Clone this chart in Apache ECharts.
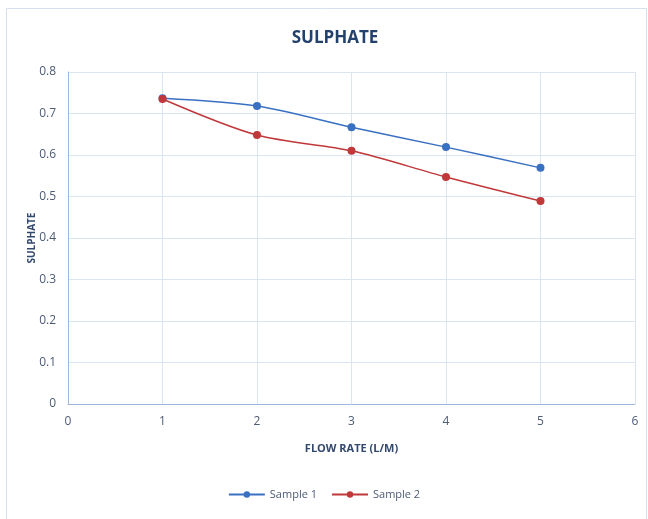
<!DOCTYPE html>
<html><head><meta charset="utf-8">
<script src="https://cdn.jsdelivr.net/npm/echarts@6/dist/echarts.min.js"></script>
<style>html,body{margin:0;padding:0;background:#fff}#c{width:648px;height:519px}</style>
</head><body><div id="c"></div>
<script>
var flowRate = [1, 2, 3, 4, 5];
var sample1 = [0.737, 0.718, 0.667, 0.619, 0.569];
var sample2 = [0.735, 0.648, 0.610, 0.547, 0.489];
var xTicks = [0, 1, 2, 3, 4, 5, 6];
var yTicks = [0, 0.1, 0.2, 0.3, 0.4, 0.5, 0.6, 0.7, 0.8];

var font = "'Open Sans', sans-serif";
var labelColor = '#4d5b75';
var chart = echarts.init(document.getElementById('c'));
function pairs(xs, ys){ return xs.map(function(x,i){return [x, ys[i]];}); }
chart.setOption({
  backgroundColor: '#fff',
  animation: false,
  graphic: [{type:'rect', shape:{x:6.5,y:8.5,width:640,height:520}, style:{fill:'none', stroke:'#d5e1f0', lineWidth:1}}],
  title: {text:'SULPHATE', left:330, top:25, textAlign:'center',
    textStyle:{fontFamily:font, fontSize:17, fontWeight:'bold', color:'#24416d'}},
  grid: {left:68, right:13, top:72, bottom:115},
  legend: {bottom:14, left:'center', itemGap:14, itemWidth:36, itemHeight:8,
    textStyle:{fontFamily:font, fontSize:11, color:labelColor},
    data:['Sample 1','Sample 2']},
  xAxis: {type:'value', min:xTicks[0], max:xTicks[xTicks.length-1], interval:1,
    name:'FLOW RATE (L/M)', nameLocation:'middle', nameGap:39, nameMoveOverlap:false,
    nameTextStyle:{fontFamily:font, fontSize:11, fontWeight:'bold', color:'#33486e'},
    axisLine:{lineStyle:{color:'#9db7dc', width:1}}, axisTick:{show:false},
    axisLabel:{fontFamily:font, fontSize:12, color:labelColor, margin:12},
    splitLine:{show:true, lineStyle:{color:'#dbe5f2'}}},
  yAxis: {type:'value', min:yTicks[0], max:yTicks[yTicks.length-1], interval:0.1,
    name:'SULPHATE', nameLocation:'middle', nameGap:31, nameRotate:90, nameMoveOverlap:false,
    nameTextStyle:{fontFamily:font, fontSize:10, fontWeight:'bold', color:'#33486e'},
    axisLine:{show:true, lineStyle:{color:'#9db7dc', width:1}}, axisTick:{show:false},
    axisLabel:{fontFamily:font, fontSize:12, color:labelColor, margin:12,
      formatter:function(v){return String(Math.round(v*10)/10);}},
    splitLine:{show:true, lineStyle:{color:'#dbe5f2'}}},
  series: [
    {name:'Sample 1', type:'line', data:pairs(flowRate, sample1), smooth:0.3,
     symbol:'circle', symbolSize:8, color:'#3a70c2', lineStyle:{width:1.5, color:'#3a70c2'},
     itemStyle:{color:'#3a70c2'}},
    {name:'Sample 2', type:'line', data:pairs(flowRate, sample2), smooth:0.3,
     symbol:'circle', symbolSize:8, color:'#c0383a', lineStyle:{width:1.5, color:'#c0383a'},
     itemStyle:{color:'#c0383a'}}
  ]
});
</script></body></html>
